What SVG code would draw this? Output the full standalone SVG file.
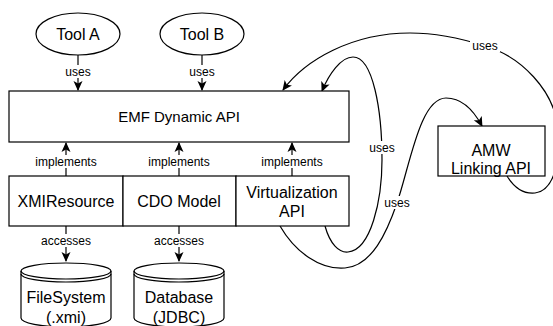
<svg xmlns="http://www.w3.org/2000/svg" width="553" height="326" viewBox="0 0 553 326">
<style>
.shape{fill:#fff;stroke:#000;stroke-width:1.2}
.edge{fill:none;stroke:#000;stroke-width:1.2}
.t{font-family:"Liberation Sans",Arial,sans-serif;font-size:16px;text-anchor:middle;fill:#000}
.emf{font-size:15px}
.lbl{font-family:"Liberation Sans",Arial,sans-serif;font-size:12px;text-anchor:middle;fill:#000}
.bg{fill:#fff;stroke:none}
</style>
<defs>
<marker id="arr" viewBox="0 0 10 10" refX="9" refY="5" markerWidth="10" markerHeight="10" markerUnits="userSpaceOnUse" orient="auto">
<path d="M0,0.5 L10,5 L0,9.5 L2.5,5 Z" fill="#000"/>
</marker>
</defs>
<g id="connectors">
<line class="edge" x1="78" y1="55" x2="78" y2="90" marker-end="url(#arr)"/>
<line class="edge" x1="202" y1="55" x2="202" y2="90" marker-end="url(#arr)"/>
<line class="edge" x1="66" y1="176" x2="66" y2="143" marker-end="url(#arr)"/>
<line class="edge" x1="179" y1="176" x2="179" y2="143" marker-end="url(#arr)"/>
<line class="edge" x1="292" y1="176" x2="292" y2="143" marker-end="url(#arr)"/>
<line class="edge" x1="66" y1="226" x2="66" y2="261" marker-end="url(#arr)"/>
<line class="edge" x1="179" y1="226" x2="179" y2="261" marker-end="url(#arr)"/>
<path class="edge" d="M280,226 C295,252 320,270 345,268 C372,266 387,232 397,203 C410,165 420,98 446,98 C462,98 474,111 482,126" marker-end="url(#arr)"/>
<path class="edge" d="M325,226 C330,244 339,253 348,252 C371,250 382,200 382,160 C382,110 373,57 353,57 C341,57 329,74 322,91" marker-end="url(#arr)"/>
<path class="edge" d="M507,176 C515,189 525,194 535,193 C555,190 560,160 558,130 C555,90 520,56 485,46 C460,38 432,33 410,33 C352,33 305,60 283,90" marker-end="url(#arr)"/>
<rect class="bg" x="63" y="65" width="30" height="13"/>
<text class="lbl" x="78" y="76">uses</text>
<rect class="bg" x="187" y="65" width="30" height="13"/>
<text class="lbl" x="202" y="76">uses</text>
<rect class="bg" x="34" y="155" width="64" height="13"/>
<text class="lbl" x="66" y="166">implements</text>
<rect class="bg" x="147" y="155" width="64" height="13"/>
<text class="lbl" x="179" y="166">implements</text>
<rect class="bg" x="260" y="155" width="64" height="13"/>
<text class="lbl" x="292" y="166">implements</text>
<rect class="bg" x="40" y="234" width="52" height="13"/>
<text class="lbl" x="66" y="245">accesses</text>
<rect class="bg" x="153" y="234" width="52" height="13"/>
<text class="lbl" x="179" y="245">accesses</text>
<rect class="bg" x="382" y="196" width="30" height="13"/>
<text class="lbl" x="397" y="207">uses</text>
<rect class="bg" x="367" y="141" width="30" height="13"/>
<text class="lbl" x="382" y="152">uses</text>
<rect class="bg" x="470" y="39" width="30" height="13"/>
<text class="lbl" x="485" y="50">uses</text>
</g>
<g id="toolA">
<ellipse class="shape" cx="78" cy="34" rx="42" ry="21"/>
<text class="t" x="78" y="40">Tool A</text>
</g>
<g id="toolB">
<ellipse class="shape" cx="202" cy="34" rx="42" ry="21"/>
<text class="t" x="202" y="40">Tool B</text>
</g>
<g id="emf">
<rect class="shape" x="9" y="91" width="340" height="51"/>
<text class="t emf" x="179" y="122">EMF Dynamic API</text>
</g>
<g id="xmi">
<rect class="shape" x="9" y="176" width="114" height="50"/>
<text class="t" x="66" y="207">XMIResource</text>
</g>
<g id="cdo">
<rect class="shape" x="123" y="176" width="113" height="50"/>
<text class="t" x="179" y="207">CDO Model</text>
</g>
<g id="virt">
<rect class="shape" x="236" y="176" width="113" height="50"/>
<text class="t" x="292" y="198">Virtualization</text>
<text class="t" x="292" y="217">API</text>
</g>
<g id="amw">
<rect class="shape" x="438" y="126" width="107" height="50"/>
<text class="t" x="491" y="156">AMW</text>
<text class="t" x="491" y="174">Linking API</text>
</g>
<g id="filesystem">
<path class="shape" d="M21,271 L21,318 A45,9 0 0 0 111,318 L111,271 A45,8 0 0 0 21,271 Z"/>
<path class="edge" d="M21,271 A45,8 0 0 0 111,271"/>
<path class="edge" d="M21,274 A45,8 0 0 0 111,274"/>
<text class="t" x="66" y="303">FileSystem</text>
<text class="t" x="66" y="323">(.xmi)</text>
</g>
<g id="database">
<path class="shape" d="M134,271 L134,318 A45,9 0 0 0 224,318 L224,271 A45,8 0 0 0 134,271 Z"/>
<path class="edge" d="M134,271 A45,8 0 0 0 224,271"/>
<path class="edge" d="M134,274 A45,8 0 0 0 224,274"/>
<text class="t" x="179" y="303">Database</text>
<text class="t" x="179" y="323">(JDBC)</text>
</g>
</svg>
